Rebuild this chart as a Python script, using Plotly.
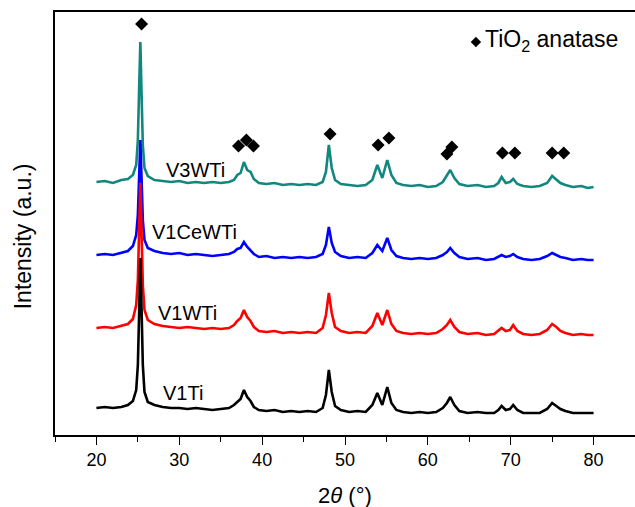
import plotly.graph_objects as go

# 2-theta grid (degrees)
two_theta = [20, 21, 22, 23, 23.8, 24.4, 24.8, 25.0, 25.15, 25.3,
             25.45, 25.6, 25.8, 26.2, 27, 28, 29, 30, 31, 32,
             33, 34, 35, 36, 36.6, 37.0, 37.4, 37.8, 38.2, 38.6,
             39.0, 39.6, 40.5, 41.5, 42.5, 43.5, 44.5, 45.5, 46.5, 47.3,
             47.7, 48.05, 48.4, 48.8, 49.5, 50.5, 51.5, 52.5, 53.3, 53.9,
             54.5, 55.1, 55.6, 56.2, 57, 58, 59, 60, 61, 61.8,
             62.3, 62.7, 63.2, 63.8, 64.8, 66, 67, 68, 68.5, 68.9,
             69.4, 69.9, 70.3, 70.8, 71.5, 72.5, 73.5, 74.4, 75.0, 75.5,
             76.0, 76.6, 77.5, 78.5, 79.3, 80]

# stacked intensities (a.u.)
v3wti = [253, 254, 252, 255, 256, 260, 270, 295, 345, 393,
         340, 290, 267, 259, 255, 254, 253, 254, 252, 253,
         252, 253, 252, 253, 255, 260, 262, 273, 265, 263,
         256, 252, 251, 252, 250, 251, 250, 251, 250, 253,
         263, 290, 267, 255, 251, 250, 249, 250, 255, 270,
         257, 275, 260, 252, 250, 249, 250, 248, 249, 253,
         259, 265, 257, 251, 249, 250, 248, 249, 252, 258,
         252, 253, 256, 251, 249, 248, 249, 252, 259, 255,
         252, 250, 248, 249, 247, 248]
v1cewti = [180, 181, 180, 182, 184, 189, 200, 220, 255, 295,
           255, 215, 195, 187, 184, 182, 181, 182, 180, 181,
           180, 179, 180, 181, 183, 186, 187, 193, 188, 185,
           181, 178, 179, 177, 178, 177, 178, 177, 178, 181,
           190, 208, 192, 183, 179, 177, 178, 177, 182, 190,
           184, 197, 185, 179, 177, 176, 177, 176, 177, 180,
           183, 187, 182, 178, 176, 177, 175, 176, 178, 180,
           178, 179, 181, 178, 176, 175, 176, 179, 182, 180,
           178, 177, 175, 176, 175, 175]
v1wti = [107, 108, 107, 109, 111, 116, 130, 155, 200, 252,
         200, 150, 125, 115, 111, 109, 108, 107, 108, 107,
         106, 107, 106, 107, 110, 114, 117, 125, 118, 114,
         108, 104, 103, 104, 102, 103, 102, 103, 102, 107,
         120, 142, 122, 108, 104, 102, 103, 102, 109, 122,
         110, 125, 111, 104, 102, 101, 102, 101, 102, 106,
         110, 115, 108, 103, 101, 102, 100, 101, 104, 107,
         104, 105, 110, 104, 101, 100, 101, 105, 111, 108,
         104, 102, 100, 101, 100, 100]
v1ti = [27, 28, 27, 28, 30, 34, 45, 70, 120, 177,
        125, 70, 43, 33, 30, 28, 27, 27, 26, 27,
        26, 25, 26, 27, 30, 33, 36, 45, 38, 34,
        28, 25, 24, 25, 23, 24, 23, 24, 23, 27,
        40, 65, 43, 29, 25, 23, 24, 23, 30, 42,
        30, 48, 32, 25, 23, 22, 23, 22, 23, 27,
        32, 38, 30, 24, 22, 23, 22, 22, 25, 29,
        25, 26, 30, 25, 22, 22, 22, 26, 32, 29,
        26, 24, 22, 22, 22, 22]

series_names = ["V3WTi", "V1CeWTi", "V1WTi", "V1Ti"]
series_values = [v3wti, v1cewti, v1wti, v1ti]
series_colors = ["#12877e", "#0000ff", "#ff0000", "#000000"]
label_x = [32.0, 31.8, 31.0, 30.4]
label_y = [265, 203, 122, 42]

# anatase reflection markers
marker_x = [25.45, 37.15, 38.1, 38.95, 48.2, 54.0, 55.3, 62.3, 62.9, 69.0, 70.5, 75.0, 76.4]
marker_y = [411, 289, 295, 289, 301, 290, 297, 281, 288, 282, 282, 282, 282]

x_ticks = [20, 30, 40, 50, 60, 70, 80]

FONT = "Arial, Liberation Sans, sans-serif"

fig = go.Figure()
for name, vals, col in zip(series_names, series_values, series_colors):
    fig.add_trace(go.Scatter(x=two_theta, y=vals, mode="lines", name=name,
                             line=dict(color=col, width=2.6), showlegend=False))

fig.add_trace(go.Scatter(x=marker_x, y=marker_y, mode="markers",
                         marker=dict(symbol="diamond", size=10, color="black"),
                         showlegend=False))
# legend marker
fig.add_trace(go.Scatter(x=[65.8], y=[393], mode="markers",
                         marker=dict(symbol="diamond", size=8, color="black"),
                         showlegend=False))

for name, lx, ly in zip(series_names, label_x, label_y):
    fig.add_annotation(x=lx, y=ly, text=name, showarrow=False,
                       xanchor="center", yanchor="middle",
                       font=dict(family=FONT, size=20, color="black"))

fig.add_annotation(x=66.7, y=395, xanchor="left", yanchor="middle",
                   text="TiO<sub>2</sub> anatase",
                   showarrow=False, font=dict(family=FONT, size=23, color="black"))

fig.add_annotation(xref="paper", yref="paper", x=-0.055, y=0.47, textangle=-90,
                   xanchor="center", yanchor="middle",
                   text="Intensity (a.u.)", showarrow=False,
                   font=dict(family=FONT, size=23, color="black"))
fig.add_annotation(xref="paper", yref="paper", x=0.5, y=-0.142,
                   xanchor="center", yanchor="middle",
                   text="2<i>θ</i> (°)", showarrow=False,
                   font=dict(family=FONT, size=22, color="black"))

fig.update_layout(
    width=635, height=507,
    margin=dict(l=55, r=0, t=12, b=72),
    paper_bgcolor="white", plot_bgcolor="white",
    xaxis=dict(range=[15, 85], tickvals=x_ticks, ticks="outside", ticklen=8,
               tickwidth=1.3, tickcolor="black",
               minor=dict(dtick=5, tick0=15, ticks="outside", ticklen=5, tickwidth=1.3, tickcolor="black"),
               showline=True, linecolor="black", linewidth=1.5, mirror=True,
               showgrid=False, zeroline=False,
               tickfont=dict(family=FONT, size=18, color="black")),
    yaxis=dict(range=[0, 423], showticklabels=False, ticks="",
               showline=True, linecolor="black", linewidth=1.5,
               showgrid=False, zeroline=False),
)

fig.write_html("out.html")
